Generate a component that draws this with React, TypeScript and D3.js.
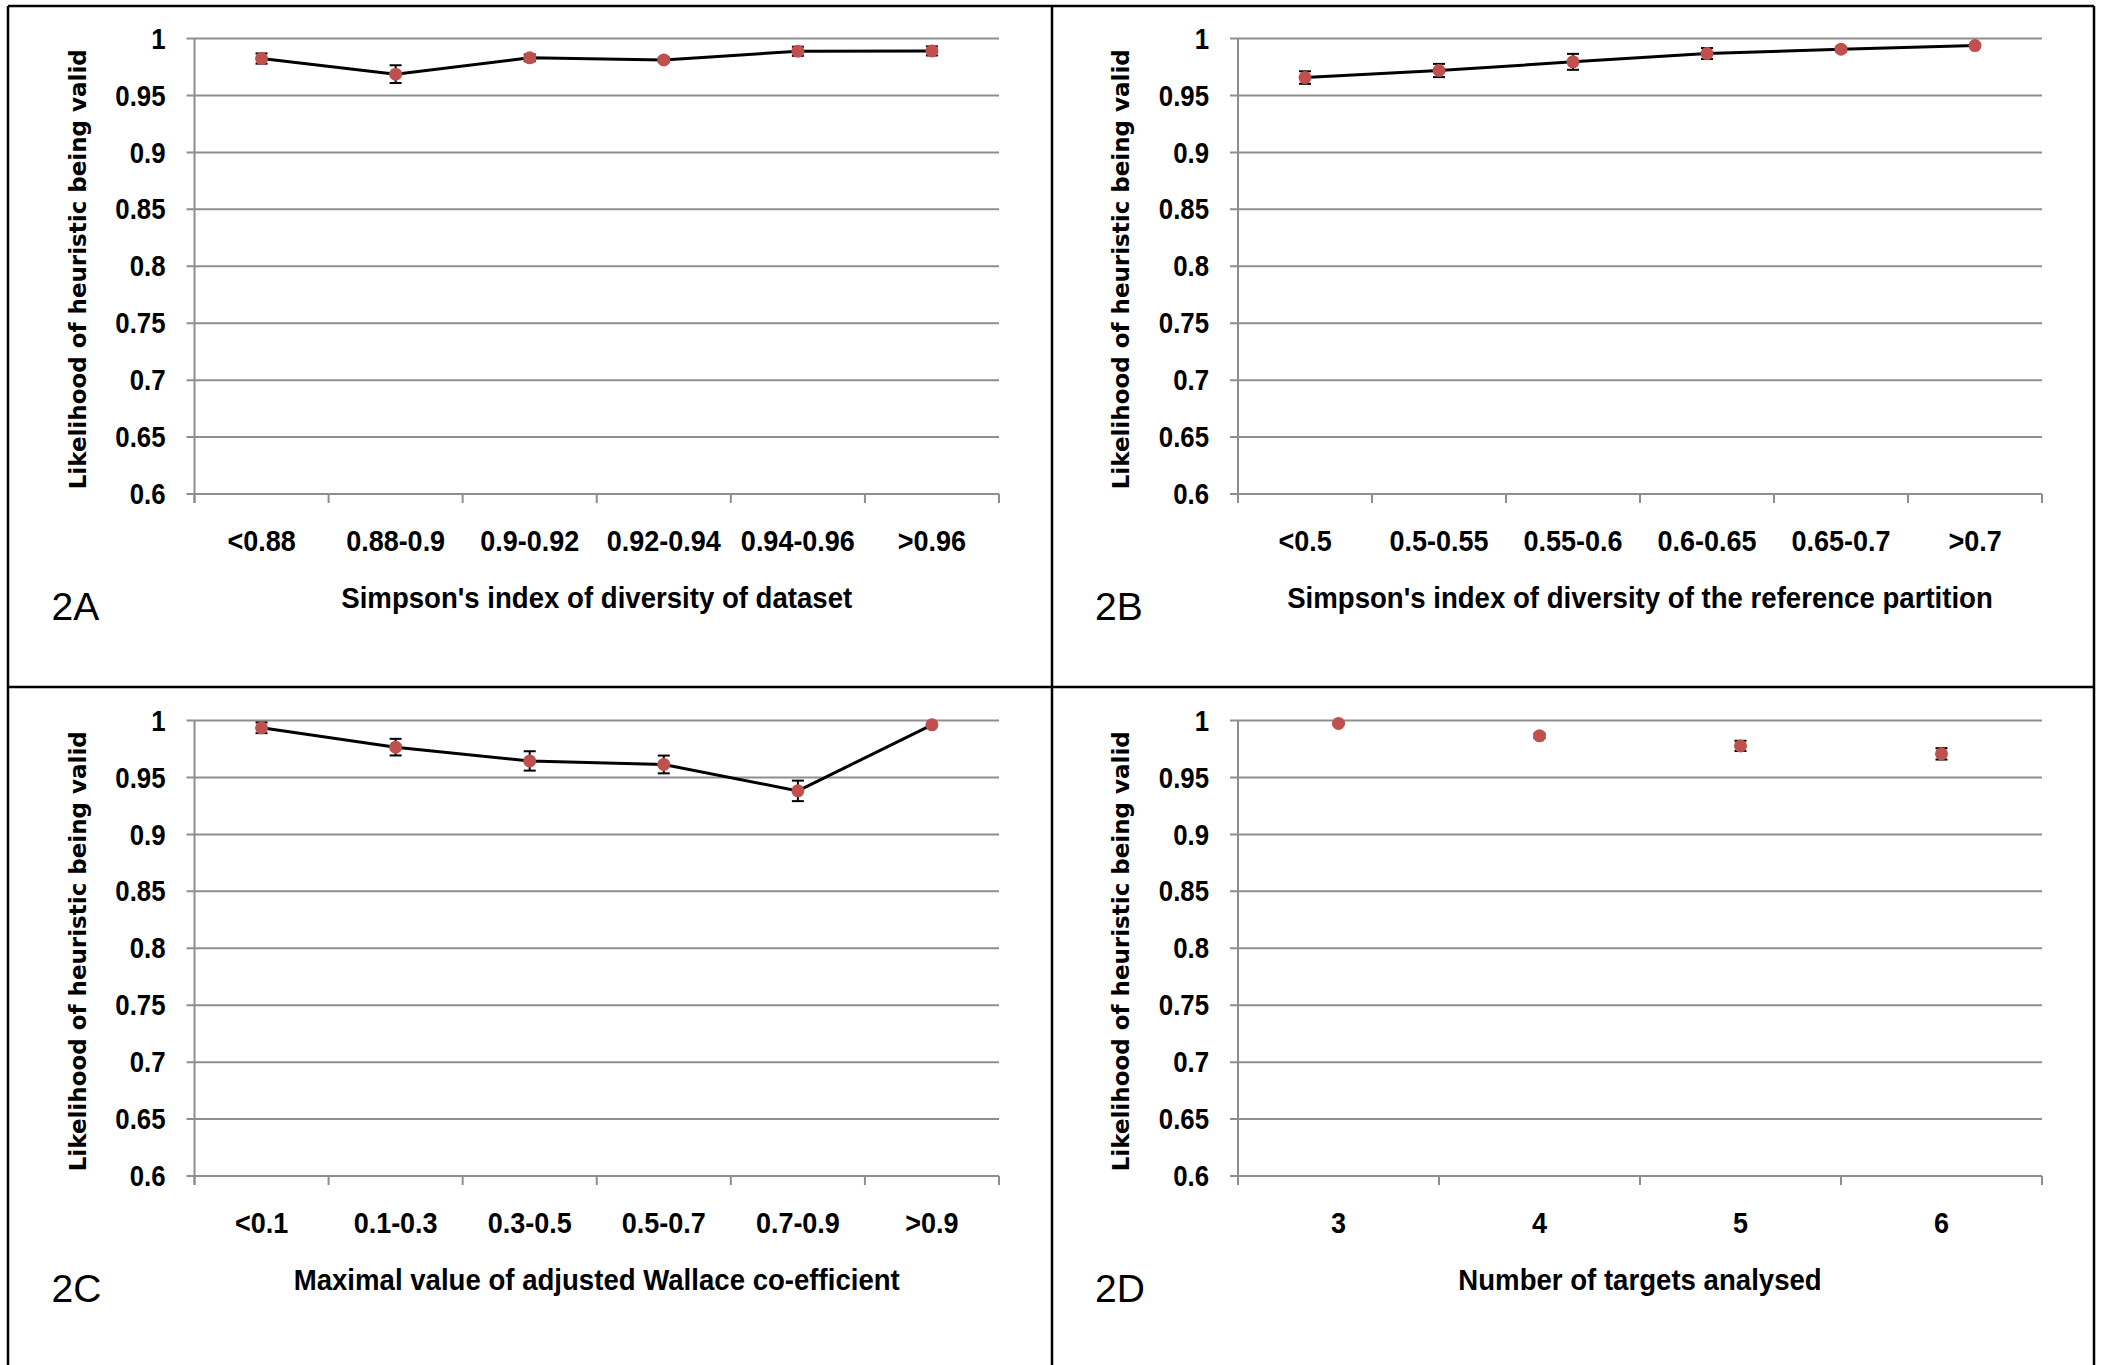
import React from "react";
import * as d3 from "d3";

// y axis ticks shared by all four panels
const yTicks = [0.6, 0.65, 0.7, 0.75, 0.8, 0.85, 0.9, 0.95, 1];
const yTickLabels = ["0.6", "0.65", "0.7", "0.75", "0.8", "0.85", "0.9", "0.95", "1"];

// 2A
const catsA = ["<0.88", "0.88-0.9", "0.9-0.92", "0.92-0.94", "0.94-0.96", ">0.96"];
const valsA = [0.9824, 0.9687, 0.983, 0.9812, 0.9888, 0.9891];
const errA = [0.0045, 0.0078, 0.003, 0.002, 0.004, 0.004];

// 2B
const catsB = ["<0.5", "0.5-0.55", "0.55-0.6", "0.6-0.65", "0.65-0.7", ">0.7"];
const valsB = [0.9657, 0.9719, 0.9795, 0.9868, 0.9906, 0.9938];
const errB = [0.0055, 0.0058, 0.007, 0.0048, 0.002, 0.001];

// 2C
const catsC = ["<0.1", "0.1-0.3", "0.3-0.5", "0.5-0.7", "0.7-0.9", ">0.9"];
const valsC = [0.9936, 0.9766, 0.9645, 0.9614, 0.9382, 0.9962];
const errC = [0.0047, 0.0073, 0.0085, 0.0078, 0.009, 0.0005];

// 2D
const catsD = ["3", "4", "5", "6"];
const valsD = [0.9974, 0.9865, 0.9777, 0.9707];
const errD = [0.0005, 0.002, 0.0045, 0.005];

const gridColor = "#8e8e8e";
const markerColor = "#c0504d";

// no narrow font installed, so squeeze Liberation Sans bold horizontally
const Narrow = (p: { x: number; y: number; anchor: string; sx: number; baseline?: string; children: string }) => (
  <text
    transform={`translate(${p.x},${p.y}) scale(${p.sx},1)`}
    textAnchor={p.anchor}
    dominantBaseline={p.baseline || "auto"}
    fontFamily="'Liberation Sans', Arial, sans-serif"
    fontWeight="bold"
    fontSize={30}
    fill="#000"
  >
    {p.children}
  </text>
);

type PanelProps = {
  x0: number;
  x1: number;
  yTop: number;
  yBot: number;
  cats: string[];
  vals: number[];
  errs: number[];
  xTitle: string;
  tag: string;
  showLine: boolean;
};

const Panel = (props: PanelProps) => {
  const { x0, x1, yTop, yBot, cats, vals, errs, xTitle, tag, showLine } = props;

  const x = d3.scaleBand<string>().domain(cats).range([x0, x1]).padding(0);
  const y = d3.scaleLinear().domain([0.6, 1]).range([yBot, yTop]);
  const bw = x.bandwidth();

  const pts = cats.map((c, i) => ({ c, v: vals[i], e: errs[i] }));
  const line = d3
    .line<{ c: string; v: number }>()
    .x((d) => (x(d.c) as number) + bw / 2)
    .y((d) => y(d.v));

  const midY = (yTop + yBot) / 2;

  return (
    <g>
      {/* gridlines, with the small outward tick on the left */}
      {yTicks.map((t, i) => (
        <g key={"g" + i}>
          <line x1={x0 - 8} x2={x1} y1={y(t)} y2={y(t)} stroke={gridColor} strokeWidth={2} />
          <Narrow x={x0 - 29} y={y(t)} anchor="end" sx={0.86} baseline="central">
            {yTickLabels[i]}
          </Narrow>
        </g>
      ))}
      {/* y axis line */}
      <line x1={x0} x2={x0} y1={yTop} y2={yBot + 9} stroke={gridColor} strokeWidth={2} />
      {/* x ticks at band edges */}
      {d3.range(cats.length + 1).map((i) => (
        <line
          key={"xt" + i}
          x1={x0 + i * bw}
          x2={x0 + i * bw}
          y1={yBot}
          y2={yBot + 9}
          stroke={gridColor}
          strokeWidth={2}
        />
      ))}
      {cats.map((c) => (
        <Narrow key={"xl" + c} x={(x(c) as number) + bw / 2} y={yBot + 57} anchor="middle" sx={0.9}>
          {c}
        </Narrow>
      ))}
      {/* titles */}
      <text
        transform={`translate(${x0 - 117},${midY + 3}) rotate(-90)`}
        textAnchor="middle"
        dominantBaseline="central"
        fontFamily="'DejaVu Sans', sans-serif"
        fontWeight="bold"
        fontSize={23}
        fill="#000"
      >
        Likelihood of heuristic being valid
      </text>
      <Narrow x={(x0 + x1) / 2} y={yBot + 114} anchor="middle" sx={0.92}>
        {xTitle}
      </Narrow>
      <text
        transform={`translate(${x0 - 143},${yBot + 126})`}
        fontFamily="'Liberation Sans', sans-serif"
        fontSize={39}
        fill="#000"
      >
        {tag}
      </text>

      {/* error bars */}
      {pts.map((d) => {
        const cx = (x(d.c) as number) + bw / 2;
        const ya = y(d.v + d.e);
        const yb = y(d.v - d.e);
        return (
          <g key={"e" + d.c} stroke="#000" strokeWidth={2}>
            <line x1={cx} x2={cx} y1={ya} y2={yb} />
            <line x1={cx - 6} x2={cx + 6} y1={ya} y2={ya} />
            <line x1={cx - 6} x2={cx + 6} y1={yb} y2={yb} />
          </g>
        );
      })}
      {showLine && <path d={line(pts) || ""} fill="none" stroke="#000" strokeWidth={3} />}
      {pts.map((d) => (
        <circle
          key={"m" + d.c}
          cx={(x(d.c) as number) + bw / 2}
          cy={y(d.v)}
          r={6.5}
          fill={markerColor}
        />
      ))}
    </g>
  );
};

const App = () => {
  return (
    <div style={{ position: "absolute", left: 0, top: 0 }}>
      <svg width={2103} height={1365} style={{ display: "block", background: "#fff" }}>
        {/* panel frame */}
        <g stroke="#000" strokeWidth={2.5} fill="none">
          <line x1={8} x2={2094} y1={6} y2={6} />
          <line x1={8} x2={8} y1={6} y2={1365} />
          <line x1={2094} x2={2094} y1={6} y2={1365} />
          <line x1={1052} x2={1052} y1={6} y2={1365} />
          <line x1={8} x2={2094} y1={687} y2={687} />
        </g>
        <Panel x0={194.5} x1={999} yTop={38.5} yBot={494} cats={catsA} vals={valsA} errs={errA}
          xTitle="Simpson's index of diversity of dataset" tag="2A" showLine={true} />
        <Panel x0={1238} x1={2042} yTop={38.5} yBot={494} cats={catsB} vals={valsB} errs={errB}
          xTitle="Simpson's index of diversity of the reference partition" tag="2B" showLine={true} />
        <Panel x0={194.5} x1={999} yTop={720.5} yBot={1176} cats={catsC} vals={valsC} errs={errC}
          xTitle="Maximal value of adjusted Wallace co-efficient" tag="2C" showLine={true} />
        <Panel x0={1238} x1={2042} yTop={720.5} yBot={1176} cats={catsD} vals={valsD} errs={errD}
          xTitle="Number of targets analysed" tag="2D" showLine={false} />
      </svg>
    </div>
  );
};

export default App;
